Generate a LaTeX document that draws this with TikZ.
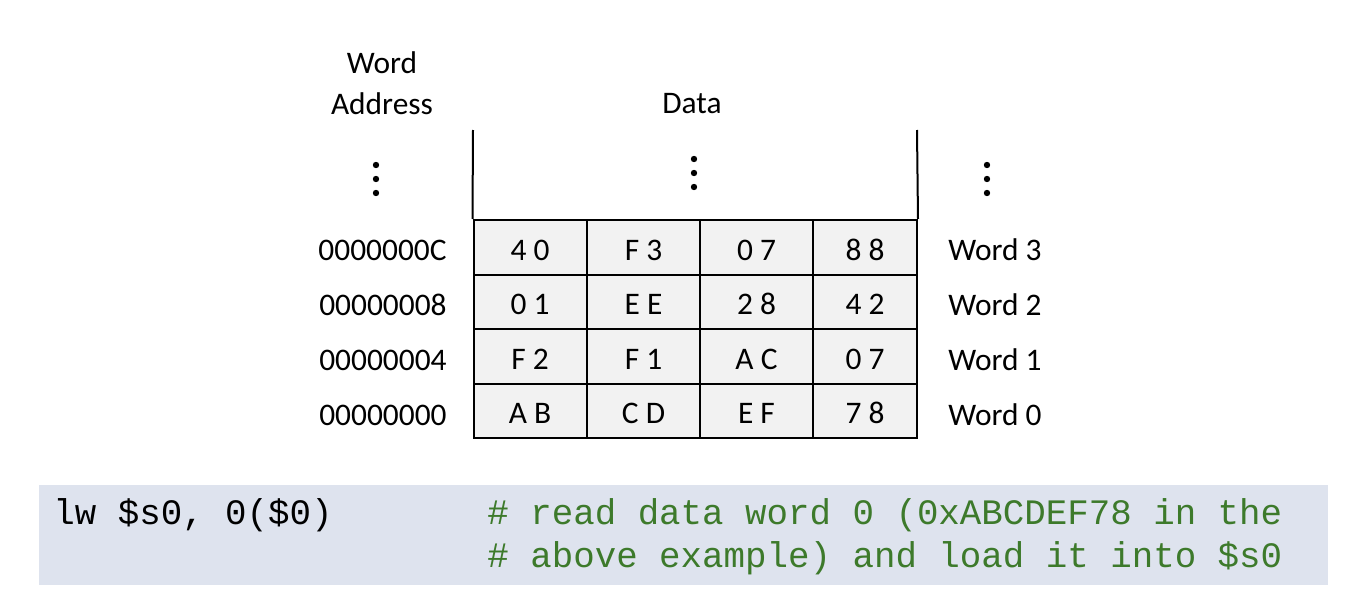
\documentclass[tikz,border=0pt]{standalone}
\usepackage{fontspec}
\setmainfont{Carlito}
\setmonofont{Liberation Mono}
\usepackage{tikz}
\definecolor{cellgray}{HTML}{F2F2F2}
\definecolor{codebg}{HTML}{DEE3EE}
\definecolor{cmtgreen}{HTML}{3D7A2B}

\begin{document}
\begin{tikzpicture}[x=0.5pt,y=-0.5pt]
	\tikzstyle{cell}=[draw=black,line width=1pt,fill=cellgray,minimum width=56.5pt,minimum height=27.25pt,inner sep=0pt,text height=13pt,text depth=0pt,font=\fontsize{15.7}{19}\selectfont]
	\tikzstyle{lbl}=[inner sep=0pt,font=\fontsize{15.7}{20.5}\selectfont]
	\tikzstyle{code}=[inner sep=0pt,anchor=west,font=\ttfamily\fontsize{17.9}{21.5}\selectfont]
	\useasboundingbox (0,0) rectangle (1346,594);
	% headers
	\node[lbl,align=center](addr) at (382,83) {Word\\Address};
	\node[lbl](data) at (692,104) {Data};
	% memory cells, word 3 down to word 0
	\node[cell](c30) at (530,247.25) {4 0};
	\node[cell](c31) at (643.5,247.25) {F 3};
	\node[cell](c32) at (756.5,247.25) {0 7};
	\node[cell,minimum width=52pt](c33) at (865,247.25) {8 8};
	\node[cell](c20) at (530,301.75) {0 1};
	\node[cell](c21) at (643.5,301.75) {E E};
	\node[cell](c22) at (756.5,301.75) {2 8};
	\node[cell,minimum width=52pt](c23) at (865,301.75) {4 2};
	\node[cell](c10) at (530,356.25) {F 2};
	\node[cell](c11) at (643.5,356.25) {F 1};
	\node[cell](c12) at (756.5,356.25) {A C};
	\node[cell,minimum width=52pt](c13) at (865,356.25) {0 7};
	\node[cell](c00) at (530,410.75) {A B};
	\node[cell](c01) at (643.5,410.75) {C D};
	\node[cell](c02) at (756.5,410.75) {E F};
	\node[cell,minimum width=52pt](c03) at (865,410.75) {7 8};
	% addresses
	\node[lbl,anchor=east](a3) at (447,250) {0000000C};
	\node[lbl,anchor=east](a2) at (447,305) {00000008};
	\node[lbl,anchor=east](a1) at (447,360) {00000004};
	\node[lbl,anchor=east](a0) at (447,415) {00000000};
	% word names
	\node[lbl,anchor=west](w3) at (948,250) {Word 3};
	\node[lbl,anchor=west](w2) at (948,305) {Word 2};
	\node[lbl,anchor=west](w1) at (948,360) {Word 1};
	\node[lbl,anchor=west](w0) at (948,415) {Word 0};
	% open walls above the table
	\coordinate (wl) at (473,130);
	\coordinate (wr) at (917,130);
	\draw[line width=1pt] (wl) -- (c30.north west);
	\draw[line width=1pt] (wr) -- (c33.north east);
	% dots
	\foreach \y in {0,14,28} {
		\fill (376,165+\y) circle (1.6pt);
		\fill (694,159+\y) circle (1.6pt);
		\fill (987,165+\y) circle (1.6pt);
	}
	% code
	\fill[codebg] (39,485) rectangle (1328,585);
	\node[code](ins) at (53,515) {lw \$s0, 0(\$0)};
	\node[code,text=cmtgreen](cm1) at (487,515) {\# read data word 0 (0xABCDEF78 in the};
	\node[code,text=cmtgreen](cm2) at (487,558) {\# above example) and load it into \$s0};
\end{tikzpicture}
\end{document}
